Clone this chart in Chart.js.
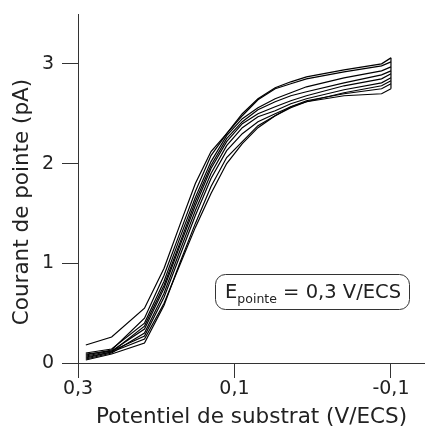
<!DOCTYPE html>
<html>
<head>
<meta charset="utf-8">
<script src="https://cdn.jsdelivr.net/npm/chart.js@4/dist/chart.umd.min.js"></script>
<style>
  html, body { margin: 0; padding: 0; background: #fff; }
</style>
</head>
<body>
<canvas id="chart" width="425" height="428"></canvas>
<script>
// potentiel de substrat (V/ECS) for each recorded point
const potentials = [0.29, 0.257, 0.215, 0.19, 0.17, 0.15, 0.13, 0.11, 0.09, 0.07, 0.048, 0.028, 0.008, -0.04, -0.088, -0.1];

// courant de pointe (pA), one array per scan
const scan1 = [0.18, 0.26, 0.55, 0.95, 1.38, 1.8, 2.12, 2.3, 2.5, 2.65, 2.76, 2.82, 2.87, 2.94, 3.0, 3.06];
const scan2 = [0.08, 0.13, 0.45, 0.88, 1.3, 1.72, 2.08, 2.3, 2.48, 2.64, 2.75, 2.8, 2.85, 2.92, 2.98, 3.02];
const scan3 = [0.10, 0.14, 0.40, 0.82, 1.25, 1.66, 2.02, 2.28, 2.45, 2.56, 2.65, 2.71, 2.77, 2.86, 2.93, 2.97];
const scan4 = [0.05, 0.11, 0.37, 0.78, 1.2, 1.62, 1.98, 2.25, 2.42, 2.54, 2.62, 2.68, 2.72, 2.81, 2.89, 2.93];
const scan5 = [0.07, 0.12, 0.34, 0.75, 1.17, 1.58, 1.95, 2.22, 2.4, 2.5, 2.57, 2.63, 2.68, 2.78, 2.85, 2.9];
const scan6 = [0.04, 0.10, 0.30, 0.70, 1.12, 1.53, 1.9, 2.18, 2.36, 2.47, 2.53, 2.6, 2.65, 2.74, 2.81, 2.86];
const scan7 = [0.09, 0.12, 0.27, 0.66, 1.07, 1.48, 1.85, 2.13, 2.3, 2.42, 2.5, 2.57, 2.62, 2.71, 2.78, 2.83];
const scan8 = [0.03, 0.09, 0.20, 0.58, 1.0, 1.4, 1.77, 2.06, 2.22, 2.38, 2.48, 2.56, 2.62, 2.68, 2.70, 2.75];
const scan9 = [0.06, 0.11, 0.24, 0.60, 0.98, 1.36, 1.7, 2.0, 2.2, 2.36, 2.48, 2.57, 2.63, 2.7, 2.75, 2.8];
const scans = [scan1, scan2, scan3, scan4, scan5, scan6, scan7, scan8, scan9];

const xTicks = [0.3, 0.1, -0.1];
const yTicks = [0, 1, 2, 3];

const FONT = '"DejaVu Sans", Verdana, sans-serif';
const INK = '#222';

let datasets = scans.map(s => ({
    data: s.map((v, i) => ({x: potentials[i], y: v})),
    showLine: true,
    borderColor: '#000',
    borderWidth: 1.2,
    pointRadius: 0,
    tension: 0
}));

// the scans are joined at the last potential
let ends = scans.map(s => s[s.length - 1]);
let last = potentials[potentials.length - 1];
datasets.push({
    data: [{x: last, y: Math.min(...ends)}, {x: last, y: Math.max(...ends)}],
    showLine: true,
    borderColor: '#000',
    borderWidth: 1.2,
    pointRadius: 0
});

// y title + E_pointe box, drawn by hand so they sit where the original has them
const extraText = {
    id: 'extraText',
    afterDraw(chart) {
        let ctx = chart.ctx;
        ctx.save();
        ctx.fillStyle = INK;
        ctx.font = '21.5px ' + FONT;
        ctx.textAlign = 'center';
        ctx.textBaseline = 'middle';
        ctx.translate(22, 202);
        ctx.rotate(-Math.PI / 2);
        ctx.fillText('Courant de pointe (pA)', 0, 0);
        ctx.restore();

        ctx.save();
        ctx.strokeStyle = '#333';
        ctx.lineWidth = 1;
        ctx.beginPath();
        ctx.roundRect(215.5, 274.5, 194, 35, 10);
        ctx.stroke();

        ctx.fillStyle = INK;
        ctx.textBaseline = 'alphabetic';
        ctx.textAlign = 'left';
        let x = 225;
        ctx.font = '19.5px ' + FONT;
        ctx.fillText('E', x, 298);
        x += ctx.measureText('E').width;
        ctx.font = '12.5px ' + FONT;
        ctx.fillText('pointe', x, 303);
        x += ctx.measureText('pointe').width;
        ctx.font = '19.5px ' + FONT;
        ctx.fillText(' = 0,3 V/ECS', x, 298);
        ctx.restore();
    }
};

new Chart(document.getElementById('chart'), {
    type: 'scatter',
    data: {datasets: datasets},
    plugins: [extraText],
    options: {
        responsive: false,
        animation: false,
        layout: {padding: {top: 14, right: 0, left: 0, bottom: 0}},
        plugins: {legend: {display: false}, tooltip: {enabled: false}},
        scales: {
            x: {
                type: 'linear',
                reverse: true,
                min: -0.1435,
                max: 0.3,
                afterBuildTicks: (scale) => { scale.ticks = xTicks.map(v => ({value: v})); },
                afterFit: (scale) => {
                    scale.height = 65;
                    scale.paddingLeft = 0;
                    scale.paddingRight = 0;
                },
                ticks: {
                    color: INK,
                    font: {family: FONT, size: 19},
                    padding: 0,
                    maxRotation: 0,
                    callback: (v) => String(v).replace('.', ',')
                },
                grid: {drawOnChartArea: false, drawTicks: true, tickLength: 15, color: '#333'},
                border: {display: true, color: '#333', width: 1},
                title: {
                    display: true,
                    text: 'Potentiel de substrat (V/ECS)',
                    color: INK,
                    font: {family: FONT, size: 21.5, lineHeight: 1},
                    padding: 0
                }
            },
            y: {
                type: 'linear',
                min: 0,
                max: 3.5,
                afterBuildTicks: (scale) => { scale.ticks = yTicks.map(v => ({value: v})); },
                afterFit: (scale) => {
                    scale.width = 78;
                    scale.paddingTop = 0;
                    scale.paddingBottom = 0;
                },
                ticks: {
                    color: INK,
                    font: {family: FONT, size: 19},
                    padding: 8
                },
                grid: {drawOnChartArea: false, drawTicks: true, tickLength: 16, color: '#333'},
                border: {display: true, color: '#333', width: 1}
            }
        }
    }
});
</script>
</body>
</html>
